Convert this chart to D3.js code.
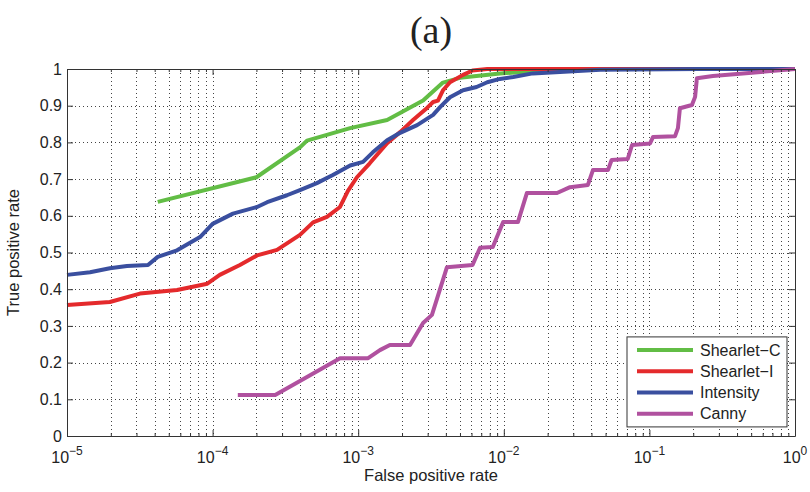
<!DOCTYPE html>
<html>
<head>
<meta charset="utf-8">
<script src="https://cdn.jsdelivr.net/npm/d3@7"></script>
<style>
  body { margin: 0; background: #fff; }
  text { font-family: "Liberation Sans", Arial, sans-serif; fill: #222; }
</style>
</head>
<body>
<svg id="roc" width="810" height="492"></svg>
<script>
// curves: [false positive rate, true positive rate]
const shearletC = [[4.2e-5,0.638],[2.0e-4,0.705],[4.0e-4,0.787],[4.45e-4,0.805],[8.8e-4,0.839],[1.58e-3,0.861],
  [2.79e-3,0.914],[3.82e-3,0.963],[5.0e-3,0.976],[9.4e-3,0.988],[1.78e-2,0.995],[4.6e-2,1.0],[1,1.0]];
const shearletI = [[1e-5,0.357],[1.97e-5,0.365],[3.17e-5,0.388],[5.7e-5,0.398],[9.2e-5,0.415],[1.12e-4,0.439],
  [1.54e-4,0.466],[2.02e-4,0.492],[2.77e-4,0.507],[3.98e-4,0.548],[4.9e-4,0.582],[6.1e-4,0.597],[7.5e-4,0.624],
  [8.5e-4,0.668],[9.8e-4,0.705],[1.2e-3,0.743],[1.58e-3,0.798],[1.94e-3,0.828],[2.38e-3,0.861],[2.97e-3,0.894],
  [3.27e-3,0.910],[3.53e-3,0.914],[3.82e-3,0.942],[4.27e-3,0.964],[5.25e-3,0.984],[6.1e-3,0.996],[7.7e-3,1.0],[1,1.0]];
const intensity = [[1e-5,0.439],[1.44e-5,0.446],[1.97e-5,0.457],[2.58e-5,0.463],[3.6e-5,0.466],[4.2e-5,0.488],
  [5.7e-5,0.506],[8.2e-5,0.542],[1.0e-4,0.578],[1.38e-4,0.606],[2.02e-4,0.624],[2.37e-4,0.637],[3.24e-4,0.656],
  [3.98e-4,0.670],[5.2e-4,0.689],[6.7e-4,0.711],[8.8e-4,0.737],[1.08e-3,0.747],[1.26e-3,0.773],[1.58e-3,0.806],
  [1.94e-3,0.826],[2.54e-3,0.847],[3.27e-3,0.875],[3.65e-3,0.896],[4.27e-3,0.923],[5.25e-3,0.942],[6.5e-3,0.951],
  [7.7e-3,0.964],[9.4e-3,0.973],[1.16e-2,0.978],[1.58e-2,0.988],[2.43e-2,0.992],[4.6e-2,0.998],[0.22,1.0],[1,1.0]];
const canny = [[1.49e-4,0.112],[2.69e-4,0.112],[3.98e-4,0.150],[7.5e-4,0.212],[1.17e-3,0.212],[1.41e-3,0.234],
  [1.65e-3,0.248],[2.27e-3,0.248],[2.79e-3,0.308],[3.21e-3,0.330],[4.07e-3,0.460],[6.1e-3,0.466],[6.87e-3,0.513],
  [8.4e-3,0.515],[9.9e-3,0.583],[1.25e-2,0.583],[1.44e-2,0.662],[2.32e-2,0.662],[2.85e-2,0.678],[3.78e-2,0.684],
  [4.1e-2,0.725],[5.2e-2,0.725],[5.5e-2,0.752],[7.1e-2,0.755],[7.6e-2,0.793],[0.101,0.797],[0.106,0.815],
  [0.150,0.817],[0.157,0.839],[0.162,0.893],[0.196,0.902],[0.206,0.924],[0.212,0.975],[0.273,0.981],[1,1.0]];

const seriesNames = ["Shearlet\u2212C", "Shearlet\u2212I", "Intensity", "Canny"];
const seriesColors = ["#62bd45", "#e42a2c", "#3a4f9f", "#b0519f"];
const seriesData = [shearletC, shearletI, intensity, canny];

const xTicks = [1e-5, 1e-4, 1e-3, 1e-2, 1e-1, 1];
const yTicks = d3.range(0, 11).map(i => i / 10);

const svg = d3.select("#roc");
const margin = { top: 69, right: 15, bottom: 56, left: 67 };
const width = 810 - margin.left - margin.right;
const height = 492 - margin.top - margin.bottom;

const x = d3.scaleLog().domain([1e-5, 1]).range([0, width]);
const y = d3.scaleLinear().domain([0, 1]).range([height, 0]);

const g = svg.append("g").attr("transform", "translate(" + margin.left + "," + margin.top + ")");

// minor log positions 2..9 in every decade
const minorX = [];
xTicks.slice(0, -1).forEach(d => { for (let k = 2; k <= 9; k++) minorX.push(d * k); });

// grid (dotted, like matlab)
const grid = g.append("g").attr("stroke", "#444").attr("stroke-width", 1).attr("stroke-dasharray", "1,3");
grid.selectAll(".vmaj").data(xTicks.concat(minorX)).enter().append("line")
  .attr("x1", d => Math.round(x(d)) + 0.5).attr("x2", d => Math.round(x(d)) + 0.5)
  .attr("y1", 0).attr("y2", height);
grid.selectAll(".hmaj").data(yTicks).enter().append("line")
  .attr("y1", d => Math.round(y(d)) + 0.5).attr("y2", d => Math.round(y(d)) + 0.5)
  .attr("x1", 0).attr("x2", width);

// curves
const line = d3.line().x(d => x(d[0])).y(d => y(d[1]));
g.selectAll(".curve").data(seriesData).enter().append("path")
  .attr("d", line)
  .attr("fill", "none")
  .attr("stroke", (d, i) => seriesColors[i])
  .attr("stroke-width", 4)
  .attr("stroke-linejoin", "round");

// axes with inward ticks on all four sides
const axisStyle = sel => { sel.select(".domain").attr("stroke", "#333"); sel.selectAll(".tick line").attr("stroke", "#333"); };
g.append("g").attr("transform", "translate(0," + height + ")")
  .call(d3.axisBottom(x).tickValues(xTicks).tickSizeInner(-6).tickSizeOuter(0).tickFormat(""))
  .call(axisStyle);
g.append("g").call(d3.axisTop(x).tickValues(xTicks).tickSizeInner(-6).tickSizeOuter(0).tickFormat(""))
  .call(axisStyle);
g.append("g").attr("transform", "translate(0," + height + ")")
  .call(d3.axisBottom(x).tickValues(minorX).tickSizeInner(-3).tickSizeOuter(0).tickFormat(""))
  .call(axisStyle).select(".domain").remove();
g.append("g")
  .call(d3.axisTop(x).tickValues(minorX).tickSizeInner(-3).tickSizeOuter(0).tickFormat(""))
  .call(axisStyle).select(".domain").remove();
const yl = g.append("g").call(d3.axisLeft(y).tickValues(yTicks).tickSizeInner(-6).tickSizeOuter(0)
  .tickFormat(d => d === 0 ? "0" : d === 1 ? "1" : d3.format(".1f")(d)));
yl.call(axisStyle);
yl.selectAll(".tick text").attr("x", -5).style("font-size", "16px")
  .style("font-family", "Liberation Sans, Arial, sans-serif").attr("fill", "#222");
g.append("g").attr("transform", "translate(" + width + ",0)")
  .call(d3.axisRight(y).tickValues(yTicks).tickSizeInner(-6).tickSizeOuter(0).tickFormat(""))
  .call(axisStyle);

// x tick labels 10^n
const xLab = g.append("g").selectAll("text").data(xTicks).enter().append("text")
  .attr("x", d => x(d)).attr("y", height + 27)
  .attr("text-anchor", "middle").style("font-size", "16px");
xLab.append("tspan").text("10");
xLab.append("tspan").attr("dy", -8).style("font-size", "12px")
  .text(d => { const e = Math.round(Math.log10(d)); return e === 0 ? "0" : "\u2212" + (-e); });

// axis titles
g.append("text").attr("x", width / 2).attr("y", height + 45).attr("text-anchor", "middle")
  .style("font-size", "16.5px").text("False positive rate");
g.append("text").attr("transform", "rotate(-90)").attr("x", -height / 2).attr("y", -48)
  .attr("text-anchor", "middle").style("font-size", "16.5px").text("True positive rate");

// title
svg.append("text").attr("x", margin.left + width / 2).attr("y", 43).attr("text-anchor", "middle")
  .style("font-family", "Liberation Serif, DejaVu Serif, serif").style("font-size", "38px").text("(a)");

// legend
const lg = g.append("g").attr("transform", "translate(" + (width - 168) + "," + y(0.27) + ")");
lg.append("rect").attr("x", 0).attr("y", 0).attr("width", 160).attr("height", 90)
  .attr("fill", "#fff").attr("stroke", "#333");
const items = lg.selectAll(".item").data(seriesNames).enter().append("g")
  .attr("transform", (d, i) => "translate(0," + (13 + i * 21.3) + ")");
items.append("line").attr("x1", 10).attr("x2", 66).attr("stroke", (d, i) => seriesColors[i]).attr("stroke-width", 4);
items.append("text").attr("x", 73).attr("dy", "0.35em").style("font-size", "16px").text(d => d);
</script>
</body>
</html>
